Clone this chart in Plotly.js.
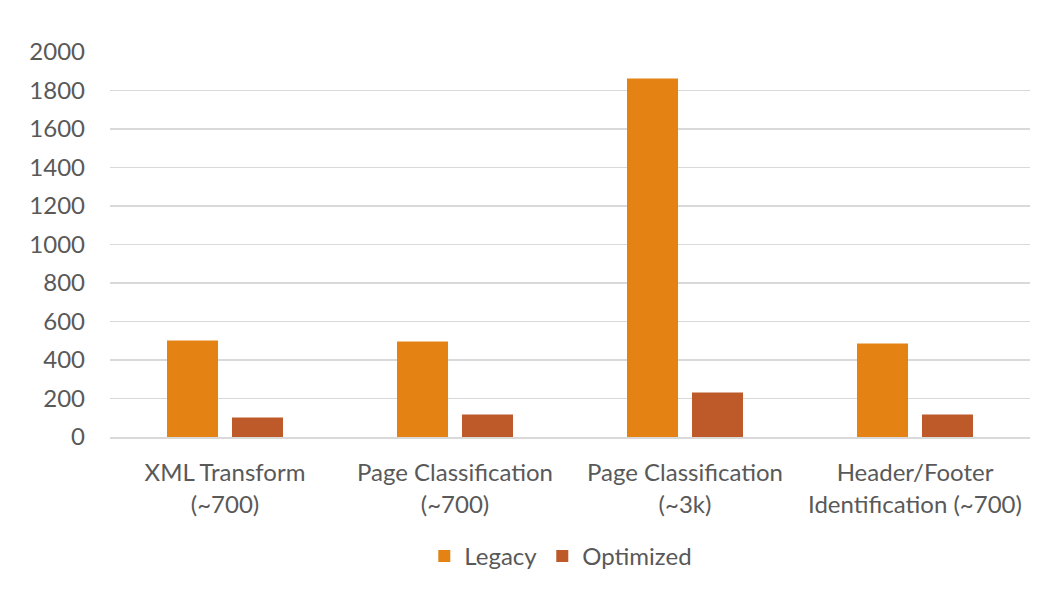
<!DOCTYPE html>
<html><head><meta charset="utf-8">
<script src="https://cdn.plot.ly/plotly-3.0.1.min.js"></script>
<style>html,body{margin:0;padding:0;background:#fff}</style>
</head><body>
<div id="chart" style="width:1058px;height:598px"></div>
<script>
const categories = ["XML Transform<br>(~700)", "Page Classification<br>(~700)", "Page Classification<br>(~3k)", "Header/Footer<br>Identification (~700)"];
const legacy = [501, 496, 1862, 486];
const optimized = [101, 117, 231, 117];
const yTicks = [0, 200, 400, 600, 800, 1000, 1200, 1400, 1600, 1800, 2000];

const font = {family: "Lato, 'Open Sans', sans-serif", size: 24, color: "#595959"};
const data = [
  {type: "bar", name: "Legacy", x: categories, y: legacy, marker: {color: "#E48314"}},
  {type: "bar", name: "Optimized", x: categories, y: optimized, marker: {color: "#BE5A2A"}}
];
const layout = {
  width: 1058, height: 598,
  margin: {l: 110, r: 28, t: 52, b: 160.5},
  paper_bgcolor: "#fff", plot_bgcolor: "#fff",
  font: font,
  barmode: "group", bargap: 0.435, bargroupgap: 0.215,
  showlegend: true,
  legend: {orientation: "h", x: 0.49, xanchor: "center", y: -0.31, yanchor: "middle", font: font, itemwidth: 30},
  xaxis: {type: "category", showgrid: false, showline: true, linecolor: "#d9d9d9", linewidth: 1.5, ticks: "", ticklabelstandoff: 14, tickfont: font, fixedrange: true},
  yaxis: {range: [0, 2000], tickvals: yTicks, ticktext: yTicks.map(String), showgrid: true, gridcolor: "#d9d9d9", gridwidth: 1.5, zeroline: false, showline: false, ticks: "", ticklabelstandoff: 24, tickfont: font, fixedrange: true}
};
Plotly.newPlot("chart", data, layout, {displayModeBar: false, staticPlot: true});
</script>
</body></html>
